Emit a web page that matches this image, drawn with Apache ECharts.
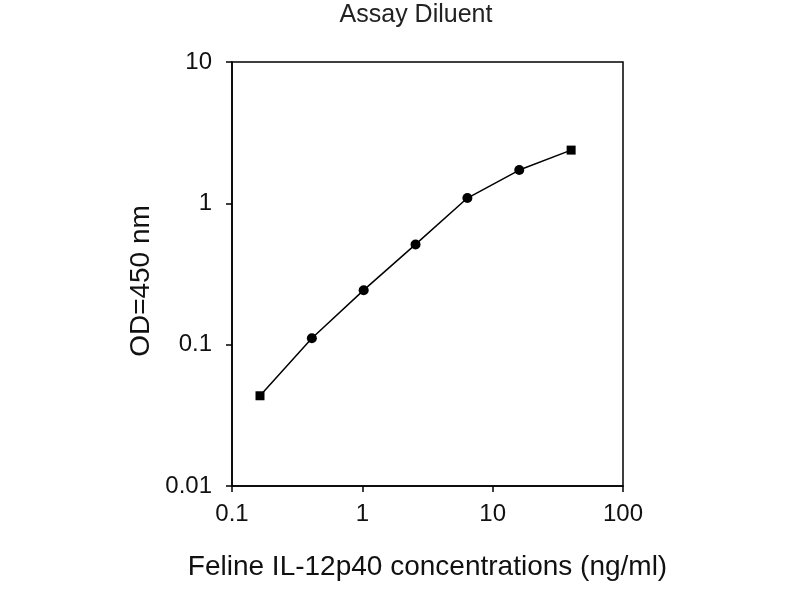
<!DOCTYPE html>
<html><head><meta charset="utf-8">
<script src="https://cdn.jsdelivr.net/npm/echarts@6/dist/echarts.min.js"></script>
<style>html,body{margin:0;padding:0;background:#fff}#c{width:800px;height:600px}</style>
</head><body><div id="c"></div>
<script>
const concentrations = [0.164, 0.41, 1.024, 2.56, 6.4, 16, 40];
const odValues = [0.0435, 0.111, 0.243, 0.512, 1.09, 1.72, 2.38];
const markerShapes = ['rect', 'circle', 'circle', 'circle', 'circle', 'circle', 'rect'];
const xTickLabels = ['0.1', '1', '10', '100'];
const yTickLabels = ['0.01', '0.1', '1', '10'];

const font = 'Liberation Sans, Arial, sans-serif';
const data = concentrations.map((c, i) => ({
  value: [c, odValues[i]],
  symbol: markerShapes[i],
  symbolSize: markerShapes[i] === 'rect' ? 9 : 10
}));
const chart = echarts.init(document.getElementById('c'));
chart.setOption({
  animation: false,
  backgroundColor: '#fff',
  title: {
    text: 'Assay Diluent', left: 411, top: -2, textAlign: 'center',
    textStyle: { fontFamily: font, fontSize: 25, fontWeight: 'normal', color: '#222' }
  },
  grid: { left: 232, top: 62, right: 177, bottom: 114, show: true, borderColor: '#000', borderWidth: 1.5 },
  xAxis: {
    type: 'log', min: 0.1, max: 100, logBase: 10,
    name: 'Feline IL-12p40 concentrations (ng/ml)', nameLocation: 'middle', nameGap: 67,
    nameTextStyle: { fontFamily: font, fontSize: 28, color: '#111' },
    axisLine: { lineStyle: { color: '#000', width: 1.5 } },
    axisTick: { inside: false, length: 6, lineStyle: { color: '#000', width: 1.5 } },
    minorTick: { show: false },
    splitLine: { show: false },
    axisLabel: {
      fontFamily: font, fontSize: 24, color: '#111', margin: 16,
      formatter: v => { const i = Math.round(Math.log10(v)) + 1; return xTickLabels[i] ?? ''; }
    }
  },
  yAxis: {
    type: 'log', min: 0.01, max: 10, logBase: 10,
    name: 'OD=450 nm', nameLocation: 'middle', nameGap: 77, nameRotate: 90,
    nameTextStyle: { fontFamily: font, fontSize: 28, color: '#111', padding: [0, 14, 0, 0] },
    axisLine: { lineStyle: { color: '#000', width: 1.5 } },
    axisTick: { inside: false, length: 6, lineStyle: { color: '#000', width: 1.5 } },
    splitLine: { show: false },
    axisLabel: {
      fontFamily: font, fontSize: 24, color: '#111', margin: 20,
      formatter: v => { const i = Math.round(Math.log10(v)) + 2; return yTickLabels[i] ?? ''; }
    }
  },
  series: [{
    type: 'line', data: data,
    lineStyle: { color: '#000', width: 1.5 },
    itemStyle: { color: '#000' }
  }]
});
</script></body></html>
